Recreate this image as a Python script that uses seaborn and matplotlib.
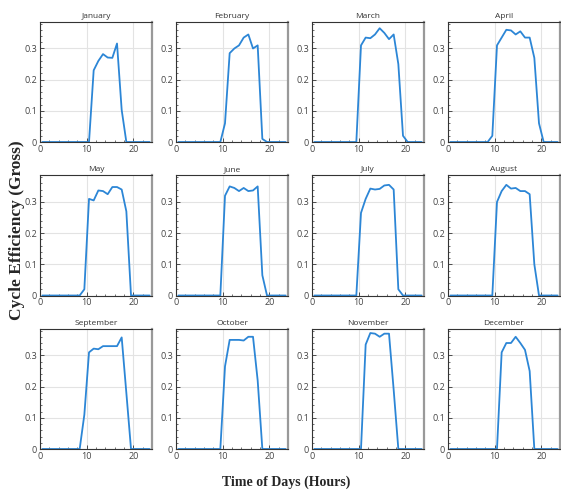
import numpy as np
import pandas as pd
import matplotlib
matplotlib.use("Agg")
import matplotlib.pyplot as plt
from matplotlib.ticker import FixedLocator, MultipleLocator, FixedFormatter
import seaborn as sns

months = ["January", "February", "March", "April", "May", "June",
          "July", "August", "September", "October", "November", "December"]
hours = [h + 0.5 for h in range(24)]

def day(vals_from_8_5):
    # values for hours 8.5 .. 20.5, zeros elsewhere
    return [0.0] * 8 + vals_from_8_5 + [0.0] * (24 - 8 - len(vals_from_8_5))

jan = day([0, 0, 0.0, 0.23, 0.26, 0.282, 0.271, 0.27, 0.316, 0.103, 0, 0, 0])
feb = day([0, 0, 0.06, 0.285, 0.30, 0.31, 0.335, 0.345, 0.30, 0.31, 0.01, 0, 0])
mar = day([0, 0, 0.31, 0.335, 0.333, 0.345, 0.365, 0.35, 0.33, 0.345, 0.25, 0.02, 0])
apr = day([0, 0.02, 0.31, 0.335, 0.36, 0.358, 0.345, 0.355, 0.335, 0.335, 0.27, 0.06, 0])
may = day([0, 0.02, 0.31, 0.305, 0.337, 0.335, 0.325, 0.348, 0.348, 0.34, 0.27, 0, 0])
jun = day([0, 0, 0.32, 0.35, 0.345, 0.335, 0.345, 0.335, 0.337, 0.35, 0.065, 0, 0])
jul = day([0, 0, 0.265, 0.31, 0.343, 0.34, 0.342, 0.353, 0.355, 0.34, 0.02, 0, 0])
aug = day([0, 0, 0.30, 0.335, 0.355, 0.343, 0.345, 0.335, 0.335, 0.325, 0.10, 0, 0])
sep = day([0, 0.11, 0.31, 0.322, 0.32, 0.33, 0.33, 0.33, 0.33, 0.358, 0.18, 0, 0])
oct_ = day([0, 0, 0.265, 0.35, 0.35, 0.35, 0.348, 0.36, 0.36, 0.22, 0, 0, 0])
nov = day([0, 0, 0, 0.335, 0.372, 0.37, 0.36, 0.37, 0.37, 0.19, 0, 0, 0])
dec = day([0, 0, 0, 0.31, 0.34, 0.34, 0.36, 0.34, 0.318, 0.25, 0, 0, 0])
series = [jan, feb, mar, apr, may, jun, jul, aug, sep, oct_, nov, dec]

y_ticks = [0, 0.1, 0.2, 0.3]
y_tick_labels = ["0", "0.1", "0.2", "0.3"]
x_ticks = [0, 10, 20]
x_tick_labels = ["0", "10", "20"]

df = pd.DataFrame({
    "month": np.repeat(months, 24),
    "hour": hours * 12,
    "eff": np.concatenate(series),
})

sns.set_style("ticks")
plt.rcParams["font.family"] = ["Open Sans", "DejaVu Sans"]

fig, axes = plt.subplots(3, 4, figsize=(5.61, 4.91), dpi=100)
fig.subplots_adjust(left=40/561, right=560/561, top=1-22/491, bottom=1-449/491,
                    wspace=0.214, hspace=0.279)

line_color = "#2C86D6"
for ax, m in zip(axes.flat, months):
    sub = df[df["month"] == m]
    sns.lineplot(data=sub, x="hour", y="eff", ax=ax, color=line_color, linewidth=1.3)
    ax.set_xlim(0, 24)
    ax.set_ylim(0, 0.385)
    ax.set_title(m, fontsize=6, color="#333333", pad=3)
    ax.set_xlabel("")
    ax.set_ylabel("")
    ax.yaxis.set_major_locator(FixedLocator(y_ticks))
    ax.yaxis.set_major_formatter(FixedFormatter(y_tick_labels))
    ax.xaxis.set_major_locator(FixedLocator(x_ticks))
    ax.xaxis.set_major_formatter(FixedFormatter(x_tick_labels))
    ax.yaxis.set_minor_locator(MultipleLocator(0.02))
    ax.xaxis.set_minor_locator(MultipleLocator(2))
    ax.grid(True, which="major", color="#e3e3e3", linewidth=0.8)
    ax.set_axisbelow(True)
    ax.tick_params(axis="both", which="major", direction="in", length=3, width=0.6,
                   labelsize=6.5, labelcolor="#444444", color="#333333", pad=2)
    ax.tick_params(axis="both", which="minor", direction="in", length=1.5, width=0.5,
                   color="#333333")
    ax.tick_params(top=False, right=False, which="both")
    for side in ["left", "bottom", "top"]:
        ax.spines[side].set_color("#333333")
        ax.spines[side].set_linewidth(0.8)
    ax.spines["right"].set_color("#999999")
    ax.spines["right"].set_linewidth(1.6)

fig.text(0.03, 0.532, "Cycle Efficiency (Gross)", rotation=90, ha="center", va="center",
         fontsize=12.5, fontweight="bold", family="Liberation Serif")
fig.text(0.51, 0.018, "Time of Days (Hours)", ha="center", va="center",
         fontsize=10, fontweight="bold", family="Liberation Serif")

fig.savefig("out.png", dpi=100)
